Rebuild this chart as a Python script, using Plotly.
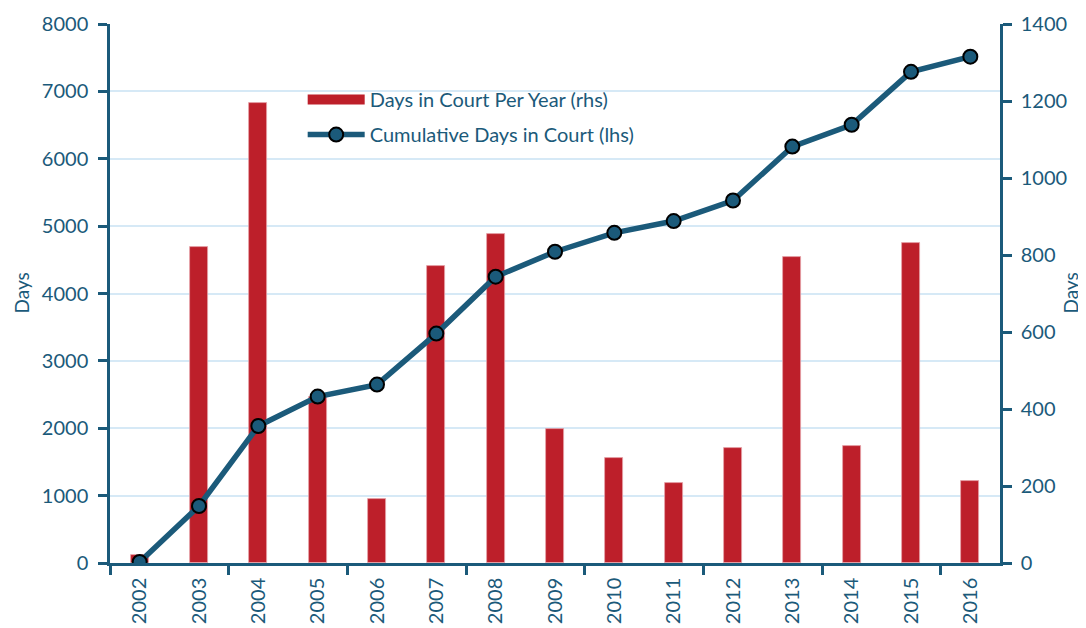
import plotly.graph_objects as go

years = ["2002", "2003", "2004", "2005", "2006", "2007", "2008", "2009",
         "2010", "2011", "2012", "2013", "2014", "2015", "2016"]
days_per_year_rhs = [22, 821, 1195, 430, 166, 772, 855, 349, 274, 209, 300, 795, 305, 832, 214]
cumulative_days_lhs = [15, 846, 2033, 2470, 2648, 3405, 4250, 4620, 4900, 5075, 5380, 6180, 6505, 7290, 7515]
lhs_ticks = [0, 1000, 2000, 3000, 4000, 5000, 6000, 7000, 8000]
rhs_ticks = [0, 200, 400, 600, 800, 1000, 1200, 1400]
bar_name = "Days in Court Per Year (rhs)"
line_name = "Cumulative Days in Court (lhs)"
axis_title = "Days"

DARK = "#1b5a7a"
RED = "#bd1f2a"
GRID = "#d6e9f6"
FONT = "Lato, 'Noto Sans', sans-serif"

xs = list(range(len(years)))

fig = go.Figure()
fig.add_trace(go.Bar(
    x=xs, y=days_per_year_rhs, name=bar_name,
    marker=dict(color=RED, line=dict(color="#e6a3a8", width=0.8)),
    width=0.3, yaxis="y", showlegend=False,
))
# legend proxy for the bars (wide red rectangle like the original legend key)
fig.add_trace(go.Scatter(
    x=[None], y=[None], name=bar_name, mode="lines",
    line=dict(color=RED, width=12), yaxis="y", legendgroup="a",
))
fig.add_trace(go.Scatter(
    x=xs, y=cumulative_days_lhs, name=line_name,
    mode="lines+markers",
    line=dict(color=DARK, width=5.5),
    marker=dict(size=14, color=DARK, line=dict(color="black", width=2)),
    yaxis="y2", legendgroup="b",
))

fig.update_layout(
    width=1078, height=620,
    margin=dict(l=102, r=86, t=16, b=65),
    paper_bgcolor="white", plot_bgcolor="white",
    font=dict(family=FONT, color=DARK, size=20),
    showlegend=True,
    legend=dict(x=0.2165, y=0.896, xanchor="left", yanchor="top",
                font=dict(size=20, color=DARK), bgcolor="rgba(0,0,0,0)",
                traceorder="grouped", tracegroupgap=6, itemwidth=57),
    bargap=0,
    xaxis=dict(
        range=[-0.5, len(years) - 0.5], automargin=False,
        tickmode="array", tickvals=xs, ticktext=years, tickangle=-90,
        ticks="", showgrid=False, zeroline=False,
        showline=True, linecolor=DARK, linewidth=2.5,
        tickfont=dict(size=20, color=DARK), ticklabelstandoff=4,
        minor=dict(tickmode="array", tickvals=[-0.5 + 2 * k for k in range(8)],
                   ticks="outside", ticklen=9, tickwidth=2.5, tickcolor=DARK, showgrid=False),
    ),
    yaxis=dict(
        range=[0, 1400], tickmode="array", tickvals=rhs_ticks, automargin=False,
        side="right", showgrid=False, zeroline=False,
        showline=True, linecolor=DARK, linewidth=2.5,
        ticks="outside", ticklen=9, tickwidth=2.5, tickcolor=DARK,
        tickfont=dict(size=20, color=DARK), ticklabelstandoff=5,
    ),
    yaxis2=dict(
        range=[0, 8000], tickmode="array", tickvals=lhs_ticks, automargin=False,
        side="left", overlaying="y", showgrid=True, gridcolor=GRID, gridwidth=2,
        zeroline=False, showline=True, linecolor=DARK, linewidth=2.5,
        ticks="outside", ticklen=9, tickwidth=2.5, tickcolor=DARK,
        tickfont=dict(size=20, color=DARK), ticklabelstandoff=6,
    ),
    annotations=[
        dict(text=axis_title, xref="paper", yref="paper", x=-0.1000, y=0.5,
             xanchor="center", yanchor="middle", textangle=-90, showarrow=False,
             font=dict(size=19, color=DARK)),
        dict(text=axis_title, xref="paper", yref="paper", x=1.0787, y=0.5,
             xanchor="center", yanchor="middle", textangle=-90, showarrow=False,
             font=dict(size=19, color=DARK)),
    ],
)

fig.write_html("out.html")
